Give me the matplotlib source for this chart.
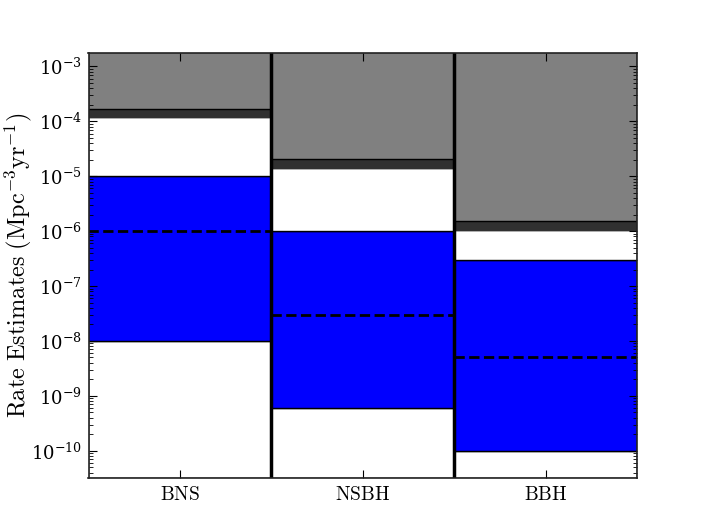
import numpy as np
import matplotlib
matplotlib.use("Agg")
from matplotlib import pyplot as plt

plt.rcParams['font.family'] = 'serif'
plt.rcParams['font.serif'] = ['DejaVu Serif']
plt.rcParams['mathtext.fontset'] = 'cm'

# Rate estimates (Mpc^-3 yr^-1)
cats = ['BNS', 'NSBH', 'BBH']
rate_low = [1e-8, 6e-10, 1e-10]
rate_high = [1e-5, 1e-6, 3e-7]
rate_median = [1e-6, 3e-8, 5e-9]
upper_limit = [1.2e-4, 1.4e-5, 1.07e-6]
upper_limit_band = [1.7e-4, 2.1e-5, 1.56e-6]

ymin, ymax = 3.2e-11, 1.75e-3


def main():
    fig = plt.figure(figsize=(7.08, 5.31), dpi=100)
    ax = fig.add_axes([0.125, 0.1, 0.775, 0.8])
    x = np.arange(len(cats))

    lo = np.array(rate_low)
    hi = np.array(rate_high)
    ul = np.array(upper_limit)
    ulb = np.array(upper_limit_band)

    # White bar below, blue range, white up to limit, dark band, gray excluded
    ax.bar(x, lo - ymin, bottom=ymin, width=1, color='white', edgecolor='black', lw=1)
    ax.bar(x, hi - lo, bottom=lo, width=1, color='#0000ff', edgecolor='black', lw=1)
    ax.bar(x, ul - hi, bottom=hi, width=1, color='white', edgecolor='black', lw=1)
    ax.bar(x, ulb - ul, bottom=ul, width=1, color='#303030', edgecolor='#303030', lw=1)
    ax.bar(x, ymax * 1.5 - ulb, bottom=ulb, width=1, color='#808080', edgecolor='black', lw=1)

    # Median
    ax.hlines(rate_median, x - 0.5, x + 0.5, colors='black', linestyles='--', lw=2)

    # Dividers
    for xv in [0.5, 1.5]:
        ax.axvline(xv, color='black', lw=2.5)

    ax.set_yscale('log')
    ax.set_ylim(ymin, ymax)
    ax.set_xlim(-0.5, 2.5)
    ax.set_xticks(x)
    ax.set_xticklabels([r'$\mathrm{%s}$' % c for c in cats], fontsize=14)
    ax.tick_params(axis='both', which='both', direction='in', top=True, right=True)
    ax.tick_params(axis='y', which='major', length=6, labelsize=13, pad=5)
    ax.tick_params(axis='y', which='minor', length=3)
    ax.tick_params(axis='x', which='major', length=6, pad=6)
    ax.set_yticks([1e-10, 1e-9, 1e-8, 1e-7, 1e-6, 1e-5, 1e-4, 1e-3])
    ax.set_ylabel(r'$\mathrm{Rate\ Estimates\ (Mpc^{-3}yr^{-1})}$', fontsize=17.5)
    ax.yaxis.set_label_coords(-0.1, 0.5)
    for s in ax.spines.values():
        s.set_color('#222222')
        s.set_linewidth(1.2)

    fig.savefig('out.png', dpi=100)


if __name__ == "__main__":
    main()
